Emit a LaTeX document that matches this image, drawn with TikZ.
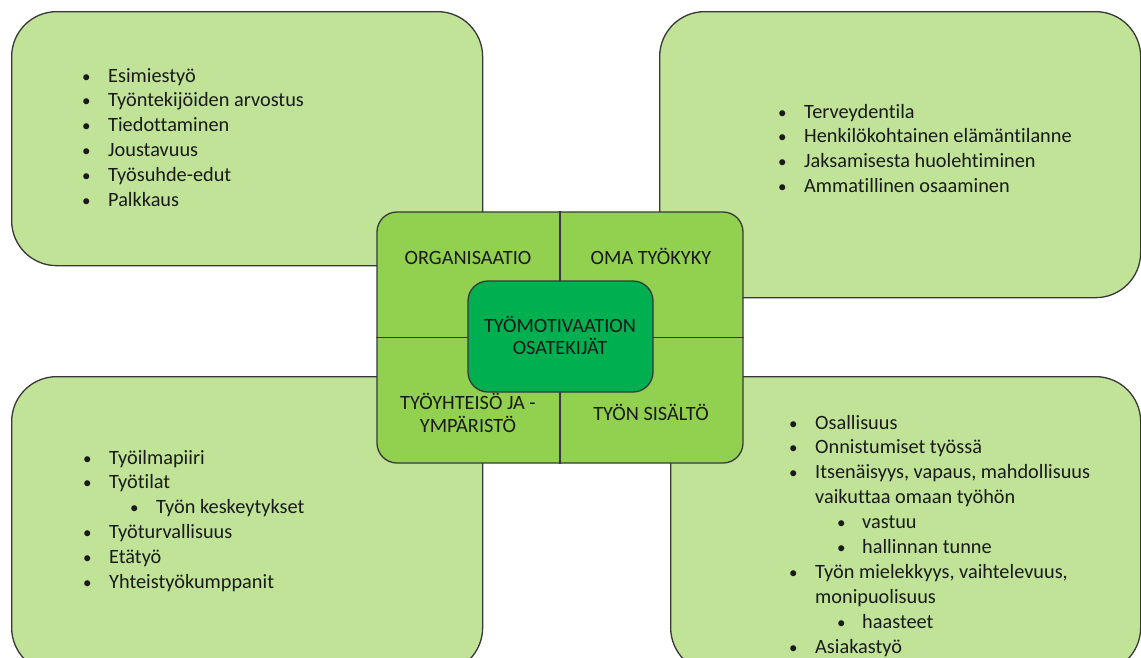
\documentclass[tikz,border=0pt]{standalone}
\usepackage{fontspec}
\setmainfont{Carlito}[Ligatures=NoCommon]
\definecolor{paleleaf}{HTML}{C0E398}
\definecolor{midleaf}{HTML}{92D050}
\definecolor{deepleaf}{HTML}{00B050}
\definecolor{edgegray}{HTML}{383838}
\definecolor{inkdark}{HTML}{1A1A1A}

% one bullet list: #1 name prefix, #2 left x, #3 first baseline y,
% #4 entries bulletoffset/textoffset/text (bulletoffset -1 = no bullet)
\newcommand\listblock[4]{%
  \foreach \bx/\tx/\txt [count=\i from 0] in {#4}{%
    \node[itemtext] (#1t\i) at ({#2+\tx},{#3+24.9*\i}) {\txt};
    \ifnum\bx>-1
      \node[itemdot] (#1b\i) at ({#2+\bx},{#3+24.9*\i}) {\textbullet};
    \fi
  }}

\begin{document}
\begin{tikzpicture}[x=1pt,y=-1pt,
  panel/.style={draw=edgegray, line width=1.3pt, fill=paleleaf,
    rounded corners=45pt, anchor=north west, inner sep=0pt},
  hubbox/.style={draw=edgegray, line width=1.3pt, fill=midleaf,
    rounded corners=20pt, inner sep=0pt},
  corebox/.style={draw=edgegray, line width=1.3pt, fill=deepleaf,
    rounded corners=20pt, inner sep=0pt},
  divider/.style={draw=edgegray, line width=1.2pt},
  itemtext/.style={anchor=base west, inner sep=0pt, text=inkdark,
    font=\fontsize{20.3}{24}\selectfont},
  itemdot/.style={anchor=base west, inner sep=0pt, text=inkdark,
    font=\fontsize{17}{24}\selectfont},
  caplabel/.style={anchor=base, inner sep=0pt, text=inkdark, align=center,
    font=\fontsize{20.3}{24}\selectfont}]
\useasboundingbox (0,0) rectangle (1141,657);
\clip (0,0) rectangle (1141,657);

% four outer panels
\node[panel, minimum width=471pt, minimum height=254pt] (org) at (11,11) {};
\node[panel, minimum width=481pt, minimum height=286pt] (abil) at (659,11) {};
\node[panel, minimum width=471pt, minimum height=296pt] (comm) at (11,376) {};
\node[panel, minimum width=470pt, minimum height=296pt] (cont) at (670,376) {};

% central quartered box
\node[hubbox, minimum width=366pt, minimum height=251pt] (hub) at (560,337.5) {};
\draw[divider] (hub.north) -- (hub.south);
\draw[divider] (hub.west) -- (hub.east);
\node[corebox, minimum width=185pt, minimum height=111pt] (core) at (560.5,336.5) {};

% quarter headings
\node[caplabel] (horg) at (468,264) {ORGANISAATIO};
\node[caplabel] (habil) at (651,264) {OMA TYÖKYKY};
\node[caplabel] (hcore) at (560,332) {TYÖMOTIVAATION};
\node[caplabel] (hcore2) at (560,354.5) {OSATEKIJÄT};
\node[caplabel] (hcomm) at (468,409) {TYÖYHTEISÖ JA -};
\node[caplabel] (hcomm2) at (468,432) {YMPÄRISTÖ};
\node[caplabel] (hcont) at (651,420) {TYÖN SISÄLTÖ};

% bullet lists
\listblock{o}{82}{82}{0/26/Esimiestyö, 0/26/Työntekijöiden arvostus,
  0/26/Tiedottaminen, 0/26/Joustavuus, 0/26/Työsuhde-edut, 0/26/Palkkaus}
\listblock{a}{778}{118}{0/26/Terveydentila, 0/26/Henkilökohtainen elämäntilanne,
  0/26/Jaksamisesta huolehtiminen, 0/26/Ammatillinen osaaminen}
\listblock{c}{83}{464}{0/26/Työilmapiiri, 0/26/Työtilat,
  47/73/Työn keskeytykset, 0/26/Työturvallisuus, 0/26/Etätyö,
  0/26/Yhteistyökumppanit}
\listblock{s}{789}{429}{0/26/Osallisuus, 0/26/Onnistumiset työssä,
  0/26/{Itsenäisyys, vapaus, mahdollisuus}, -1/26/vaikuttaa omaan työhön,
  48/73/vastuu, 48/73/hallinnan tunne,
  0/26/{Työn mielekkyys, vaihtelevuus,}, -1/26/monipuolisuus,
  48/73/haasteet, 0/26/Asiakastyö}
\end{tikzpicture}
\end{document}
